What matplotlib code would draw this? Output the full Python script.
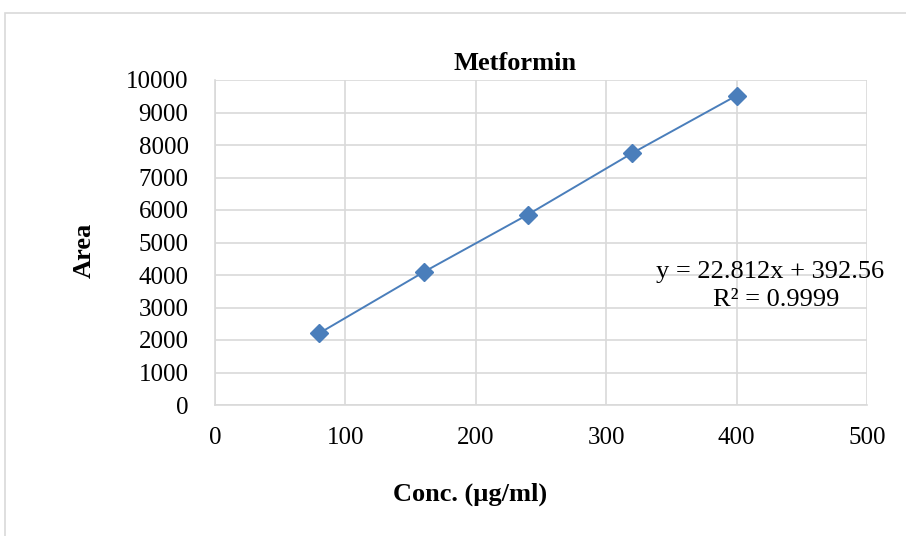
import matplotlib.pyplot as plt
from matplotlib.patches import Rectangle

# datos de calibracion
conc = [80, 160, 240, 320, 400]
area = [2210, 4090, 5860, 7750, 9520]
ecuacion = ['y = 22.812x + 392.56', 'R² = 0.9999']

plt.rcParams['font.family'] = ['Liberation Serif', 'DejaVu Serif']

fig = plt.figure(figsize=(9.06, 5.36), dpi=100)
W, H = 906, 536
ax = fig.add_axes([215 / W, 1 - 405 / H, (867 - 215) / W, (405 - 80) / H])

# borde exterior del grafico
fig.patches.append(Rectangle((5 / W, -0.1), 1.1, 1 - 13 / H + 0.1, transform=fig.transFigure,
                             fill=False, edgecolor='#d9d9d9', linewidth=1.2))

ax.plot(conc, area, color='#4a7ebb', linewidth=1.4, marker='D', markersize=9.5,
        markerfacecolor='#4a7ebb', markeredgecolor='#4a7ebb')

ax.set_xlim(0, 500)
ax.set_ylim(0, 10000)
ax.set_xticks(range(0, 501, 100))
ax.set_yticks(range(0, 10001, 1000))
ax.grid(True, color='#d9d9d9', linewidth=1.2)
ax.set_axisbelow(True)
for s in ['top', 'right']:
    ax.spines[s].set_visible(False)
for s in ['left', 'bottom']:
    ax.spines[s].set_color('#d9d9d9')
    ax.spines[s].set_linewidth(1.2)
ax.tick_params(length=0, labelsize=18)
ax.tick_params(axis='y', pad=19)
ax.tick_params(axis='x', pad=16)

# titulo y etiquetas en posiciones del grafico de Excel
fig.text(515 / W, 1 - 63 / H, 'Metformin', ha='center', va='center',
         fontsize=19, fontweight='bold')
fig.text(470 / W, 1 - 494 / H, 'Conc. (µg/ml)', ha='center', va='center',
         fontsize=19, fontweight='bold')
fig.text(84 / W, 1 - 250 / H, 'Area', ha='center', va='center', rotation=90,
         fontsize=19, fontweight='bold')

fig.text(770 / W, 1 - 272 / H, ecuacion[0], ha='center', va='center', fontsize=19)
fig.text(776 / W, 1 - 300 / H, ecuacion[1], ha='center', va='center', fontsize=19)

fig.savefig('out.png', dpi=100)
